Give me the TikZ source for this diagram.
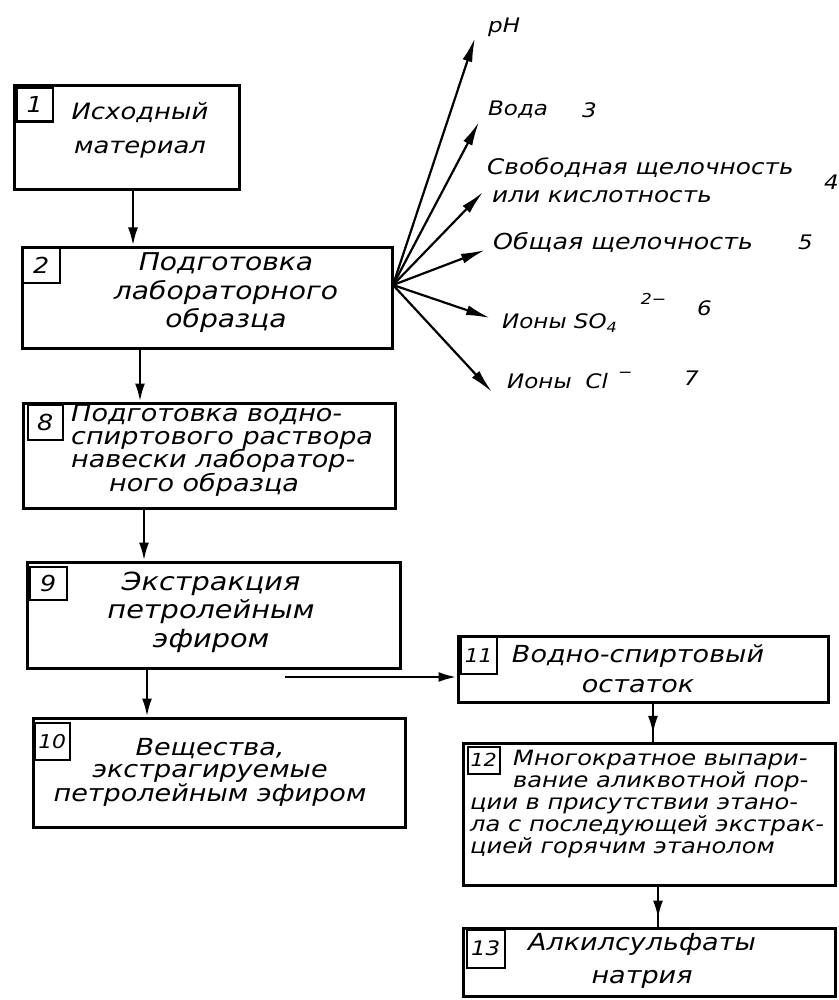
\documentclass[tikz,border=0pt]{standalone}
\usepackage{fontspec}
\setmainfont{DejaVu Sans}[FakeStretch=1.15]
\usetikzlibrary{arrows.meta,decorations.markings}
\newcommand\fsz[2]{\fontsize{#1}{#2}\selectfont\itshape}
\begin{document}
\begin{tikzpicture}[x=1pt,y=-1pt,
 box/.style={draw, line width=3pt, inner sep=0pt},
 numbox/.style={draw, line width=2.4pt, inner sep=0pt, font=\fsz{22}{22}},
 txt/.style={align=center, inner sep=0pt},
 lab/.style={anchor=west, inner sep=0pt, font=\fsz{20}{28}},
 arr/.style={line width=2.5pt, -{Latex[length=18pt,width=10pt]}},
 fan/.style={line width=2.2pt, -{Latex[length=24pt,width=10pt]}},
 midarr/.style={line width=2.5pt, decoration={markings, mark=at position 0.8 with {\arrow{Latex[length=18pt,width=10pt]}}}, postaction={decorate}},
]
\useasboundingbox (0,0) rectangle (838,1000);

% boxes
\node[box, minimum width=225pt, minimum height=104pt] (b1) at (126.5,138) {};
\node[box, minimum width=370pt, minimum height=101pt] (b2) at (207,297.5) {};
\node[box, minimum width=372pt, minimum height=105pt] (b8) at (209,455.5) {};
\node[box, minimum width=373pt, minimum height=106pt] (b9) at (213.5,615) {};
\node[box, minimum width=372pt, minimum height=109pt] (b10) at (219,772.5) {};
\node[box, minimum width=370pt, minimum height=66pt] (b11) at (643,669) {};
\node[box, minimum width=372pt, minimum height=142pt] (b12) at (649,814) {};
\node[box, minimum width=372pt, minimum height=68pt] (b13) at (649,962) {};

% number squares
\node[numbox, minimum width=36pt, minimum height=34pt, anchor=north west] (n1) at ([xshift=3pt,yshift=-2pt]b1.north west) {1};
\node[numbox, minimum width=37pt, minimum height=35pt, anchor=north west] (n2) at ([xshift=1pt,yshift=-1pt]b2.north west) {2};
\node[numbox, minimum width=35pt, minimum height=35pt, anchor=north west] (n8) at ([xshift=5pt,yshift=-2pt]b8.north west) {8};
\node[numbox, minimum width=37pt, minimum height=33pt, anchor=north west] (n9) at ([xshift=3pt,yshift=-5pt]b9.north west) {9};
\node[numbox, minimum width=35pt, minimum height=37pt, anchor=north west, font=\fsz{19}{19}] (n10) at ([xshift=2pt,yshift=-5pt]b10.north west) {10};
\node[numbox, minimum width=36pt, minimum height=37pt, anchor=north west, font=\fsz{19}{19}] (n11) at ([xshift=3pt,yshift=-1pt]b11.north west) {11};
\node[numbox, minimum width=32pt, minimum height=27pt, anchor=north west, font=\fsz{18}{18}] (n12) at ([xshift=5pt,yshift=-4pt]b12.north west) {12};
\node[numbox, minimum width=38pt, minimum height=38pt, anchor=north west, font=\fsz{20}{20}] (n13) at ([xshift=4pt,yshift=-2pt]b13.north west) {13};

% box texts
\node[txt, font=\fsz{22.5}{34}] (t1) at (140,130) {Исходный\\материал};
\node[txt, font=\fsz{24.5}{28.5}] (t2) at (226,293) {Подготовка\\лабораторного\\образца};
\node[txt, align=left, anchor=west, font=\fsz{23.5}{23.3}] (t8) at (71,450) {Подготовка водно-\\спиртового раствора\\навески лаборатор-\\\hspace*{38pt}ного образца};
\node[txt, font=\fsz{25}{28.5}] (t9) at (211,612) {Экстракция\\петролейным\\эфиром};
\node[txt, font=\fsz{23.5}{22.5}] (t10) at (210,772) {Вещества,\\экстрагируемые\\петролейным эфиром};
\node[txt, font=\fsz{23.5}{30}] (t11) at (638,669) {Водно-спиртовый\\остаток};
\node[txt, align=left, anchor=west, font=\fsz{21}{22.2}] (t12) at (470,804) {\hspace*{43pt}Многократное выпари-\\\hspace*{43pt}вание аликвотной пор-\\ции в присутствии этано-\\ла с последующей экстрак-\\цией горячим этанолом};
\node[txt, font=\fsz{23.5}{33}] (t13) at (642,961) {Алкилсульфаты\\натрия};

% vertical connectors
\coordinate (x1) at (133,0);
\coordinate (x2) at (140,0);
\coordinate (x8) at (144,0);
\coordinate (x9) at (147,0);
\coordinate (x11) at (653,0);
\coordinate (x12) at (658,0);
\draw[arr] (b1.south -| x1) -- (b2.north -| x1);
\draw[arr] (b2.south -| x2) -- (b8.north -| x2);
\draw[arr] (b8.south -| x8) -- (b9.north -| x8);
\draw[arr] (b9.south -| x9) -- (b10.north -| x9);
\draw[midarr] (b11.south -| x11) -- (b12.north -| x11);
\draw[midarr] (b12.south -| x12) -- (b13.north -| x12);

% horizontal connector 9 -> 11
\coordinate (h0) at (285,677);
\draw[arr] (h0) -- (h0 -| b11.west);

% fan of arrows from box 2
\coordinate (fo) at (393,285);
\coordinate (p1) at (475,38);
\coordinate (p2) at (479,122);
\coordinate (p3) at (483,192);
\coordinate (p4) at (485,250);
\coordinate (p5) at (490,318);
\coordinate (p6) at (492,392);
\foreach \p in {p1,p2,p3,p4,p5,p6} \draw[fan] (fo) -- (\p);

% fan labels
\node[lab] (l1) at (488,27) {pH};
\node[lab] (l2) at (488,110) {Вода};
\node[lab] (l2n) at (582,110) {3};
\node[lab, align=left, font=\fsz{21.5}{28}] (l3) at (487,180) {Свободная щелочность\\\hspace*{5pt}или кислотность};
\node[lab] (l3n) at (824,182) {4};
\node[lab, font=\fsz{22}{28}] (l4) at (493,242) {Общая щелочность};
\node[lab] (l4n) at (798,242) {5};
\node[lab] (l5) at (502,313) {Ионы SO\raisebox{-4pt}{\fsz{14}{14}4}\hspace*{24pt}\raisebox{24pt}{\fsz{15}{15}2−}};
\node[lab] (l5n) at (697,308) {6};
\node[lab] (l6) at (507,380) {Ионы\hspace*{14pt}Cl\hspace*{10pt}\raisebox{11pt}{\fsz{15}{15}−}};
\node[lab] (l6n) at (684,378) {7};
\end{tikzpicture}
\end{document}
